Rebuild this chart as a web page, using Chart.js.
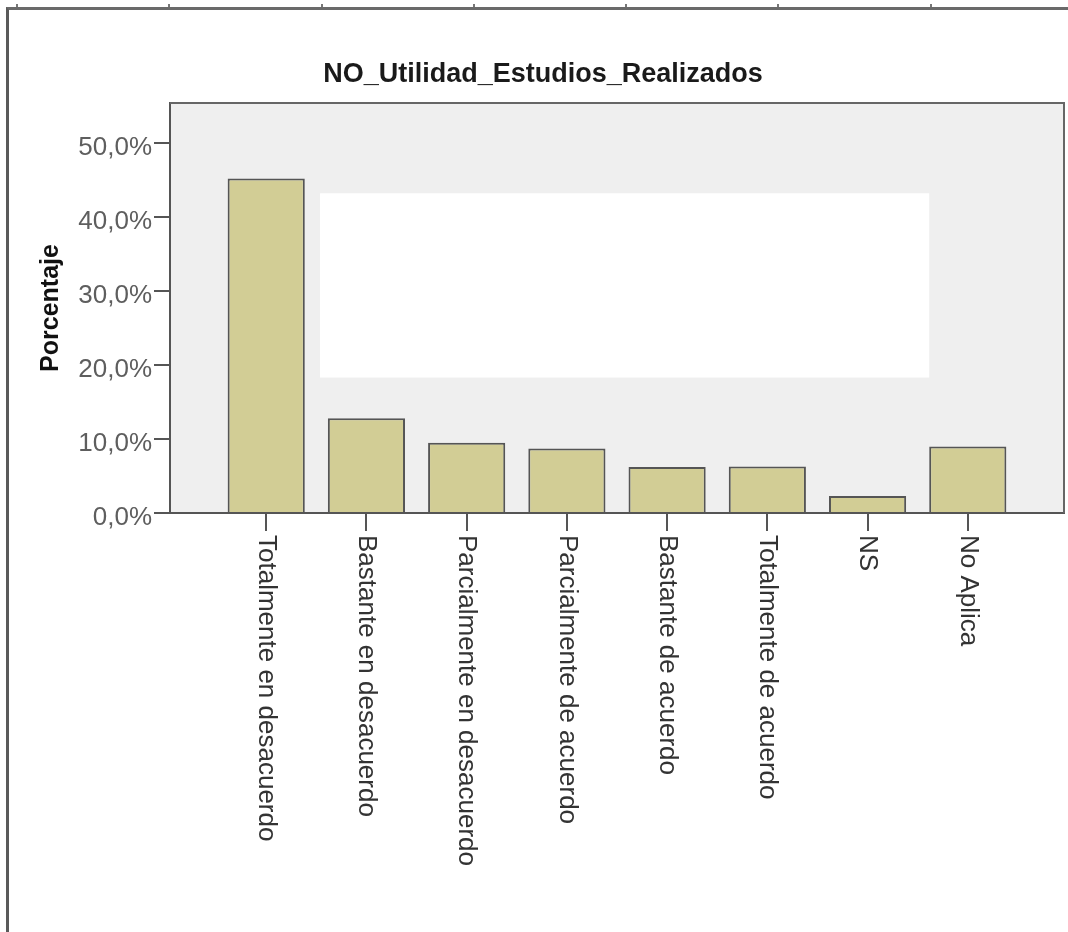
<!DOCTYPE html>
<html lang="es">
<head>
  <meta charset="UTF-8" />
  <title>NO_Utilidad_Estudios_Realizados</title>
  <style>
    html, body { margin: 0; padding: 0; background: #fff; }
    .page { position: relative; width: 1068px; height: 932px; overflow: hidden; }
    /* viewer frame round the output */
    .frame {
      position: absolute; left: 6px; top: 7px; right: 0; bottom: 0;
      border-top: 3px solid #6a6a6a; border-left: 3px solid #5a5a5a;
    }
    .ruler {
      position: absolute; left: 16px; top: 4px; width: 1052px; height: 3px;
      background: repeating-linear-gradient(to right, #777 0 2px, transparent 2px 152.3px);
    }
    .chart-box { position: absolute; left: 0; top: 0; width: 1068px; height: 932px; }
  </style>
</head>
<body>
  <div class="page">
    <div class="frame"></div>
    <div class="ruler"></div>
    <div class="chart-box">
      <canvas id="chart"></canvas>
    </div>
  </div>

  <script src="https://cdn.jsdelivr.net/npm/chart.js"></script>
  <script>
    // --- data ---
    const categories = [
      'Totalmente en desacuerdo',
      'Bastante en desacuerdo',
      'Parcialmente en desacuerdo',
      'Parcialmente de acuerdo',
      'Bastante de acuerdo',
      'Totalmente de acuerdo',
      'NS',
      'No Aplica'
    ];
    const percentages = [45.2, 12.8, 9.5, 8.7, 6.2, 6.3, 2.3, 9.0];
    const yTicks = [0, 10, 20, 30, 40, 50];
    const yTickLabels = ['0,0%', '10,0%', '20,0%', '30,0%', '40,0%', '50,0%'];
    const chartTitle = 'NO_Utilidad_Estudios_Realizados';
    const yTitle = 'Porcentaje';

    // axis ranges (category index on x, percent on y)
    const xMin = -0.96, xMax = 7.96;
    const yMax = 55.4;
    // blank white panel inside the plot, in axis units
    const blankPanel = { x0: 0.537, x1: 6.615, y0: 18.3, y1: 43.2 };

    const FONT = '"Liberation Sans", Arial, sans-serif';

    const plotDecor = {
      id: 'plotDecor',
      beforeDraw(chart) {
        const { ctx, chartArea: a } = chart;
        ctx.save();
        ctx.fillStyle = '#efefef';
        ctx.fillRect(a.left, a.top, a.right - a.left, a.bottom - a.top);
        ctx.restore();
      },
      beforeDatasetsDraw(chart) {
        const { ctx, scales: { x, y } } = chart;
        const left = x.getPixelForValue(blankPanel.x0);
        const right = x.getPixelForValue(blankPanel.x1);
        const top = y.getPixelForValue(blankPanel.y1);
        const bottom = y.getPixelForValue(blankPanel.y0);
        ctx.save();
        ctx.fillStyle = '#ffffff';
        ctx.fillRect(left, top, right - left, bottom - top);
        ctx.restore();
      },
      afterDraw(chart) {
        const { ctx, chartArea: a, scales: { x } } = chart;
        ctx.save();
        // top and right edges of the plot box
        ctx.strokeStyle = '#666';
        ctx.lineWidth = 2;
        ctx.beginPath();
        ctx.moveTo(a.left, a.top);
        ctx.lineTo(a.right, a.top);
        ctx.lineTo(a.right, a.bottom);
        ctx.stroke();

        // category labels, rotated to read top to bottom
        ctx.fillStyle = '#333';
        ctx.font = '26px ' + FONT;
        ctx.textAlign = 'left';
        ctx.textBaseline = 'middle';
        categories.forEach((label, i) => {
          const px = x.getPixelForValue(i);
          ctx.save();
          ctx.translate(px, a.bottom + 22);
          ctx.rotate(Math.PI / 2);
          ctx.fillText(label, 0, 0);
          ctx.restore();
        });
        ctx.restore();
      }
    };

    new Chart(document.getElementById('chart'), {
      type: 'bar',
      data: {
        datasets: [{
          label: yTitle,
          data: percentages.map((v, i) => ({ x: i, y: v })),
          backgroundColor: '#d2cd95',
          borderColor: '#555',
          borderWidth: 2,
          categoryPercentage: 1,
          barPercentage: 0.77
        }]
      },
      options: {
        responsive: true,
        maintainAspectRatio: false,
        animation: false,
        layout: { padding: { left: 22, right: 4, top: 0, bottom: 0 } },
        scales: {
          x: {
            type: 'linear',
            min: xMin,
            max: xMax,
            offset: false,
            afterBuildTicks: s => { s.ticks = categories.map((c, i) => ({ value: i })); },
            afterFit: s => { s.height = 419; },
            grid: { offset: false, drawOnChartArea: false, drawTicks: true, tickLength: 18, color: '#555', lineWidth: 2 },
            border: { display: true, color: '#555', width: 2 },
            ticks: { display: false }
          },
          y: {
            min: 0,
            max: yMax,
            afterBuildTicks: s => { s.ticks = yTicks.map(v => ({ value: v })); },
            afterFit: s => { s.width = 148; },
            grid: { drawOnChartArea: false, drawTicks: true, tickLength: 16, color: '#555', lineWidth: 2 },
            border: { display: true, color: '#555', width: 2 },
            ticks: {
              callback: v => yTickLabels[yTicks.indexOf(v)],
              font: { size: 26, family: FONT },
              color: '#5e5e5e',
              padding: 2,
              labelOffset: 5
            },
            title: {
              display: true,
              text: yTitle,
              font: { size: 25, weight: 'bold', family: FONT },
              color: '#111',
              padding: { top: 14, bottom: 0 }
            }
          }
        },
        plugins: {
          legend: { display: false },
          tooltip: { enabled: false },
          title: {
            display: true,
            text: chartTitle,
            font: { size: 27, weight: 'bold', family: FONT },
            color: '#1a1a1a',
            padding: { top: 58, bottom: 12.6 }
          }
        }
      },
      plugins: [plotDecor]
    });
  </script>
</body>
</html>
